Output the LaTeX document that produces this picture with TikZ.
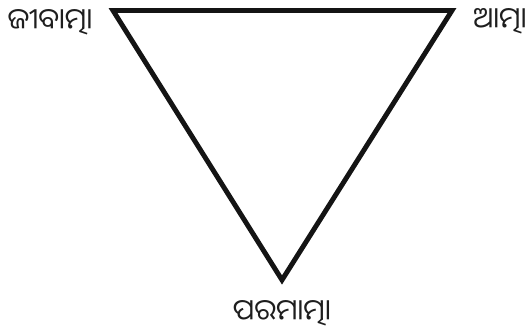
\documentclass[tikz,border=0pt]{standalone}
\usepackage{fontspec}
\newfontfamily\odiafont[Script=Oriya]{Noto Sans Oriya UI}
\usetikzlibrary{positioning}
\definecolor{edgeclr}{RGB}{20,20,20}
\definecolor{txtclr}{RGB}{30,30,30}
\tikzset{
  tri/.style={draw=edgeclr,line width=2.8pt,line join=miter},
  olbl/.style={font=\odiafont\fontsize{16.5}{19}\selectfont,text=txtclr,inner sep=0pt},
}
\begin{document}
\begin{tikzpicture}[x=0.02cm,y=-0.02cm]
  \useasboundingbox (0,0) rectangle (531,333);
  \coordinate (jv) at (113,10.5);
  \coordinate (at) at (452,10.5);
  \coordinate (pm) at (282,280);
  \draw[tri] (jv) -- (at) -- (pm) -- cycle;
  \node[olbl,anchor=center] (jvl) at (50,22) {ଜୀବାତ୍ମା};
  \node[olbl,anchor=center] (atl) at (500,21) {ଆତ୍ମା};
  \node[olbl,anchor=center] (pml) at (282,313) {ପରମାତ୍ମା};
\end{tikzpicture}
\end{document}
